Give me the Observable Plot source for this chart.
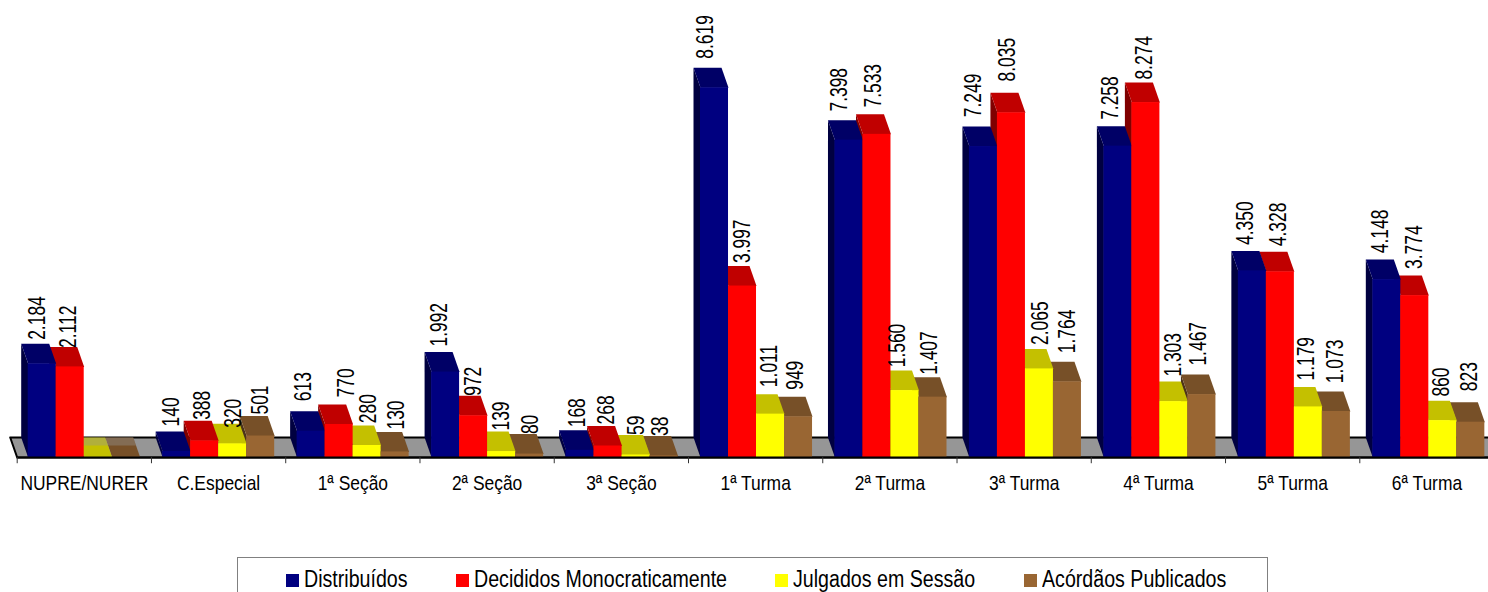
<!DOCTYPE html>
<html>
<head>
<meta charset="utf-8">
<script src="https://cdn.jsdelivr.net/npm/d3@7"></script>
<script src="https://cdn.jsdelivr.net/npm/@observablehq/plot@0.6"></script>
<style>
html,body{margin:0;padding:0;background:#fff;overflow:hidden;width:1488px;height:592px}
#chart{position:absolute;left:0;top:0}
svg{display:block}
#legend{position:absolute;left:237px;top:557px;width:1031px;height:60px;border:1px solid #808080;box-sizing:border-box;background:#fff}
#legend i{position:absolute;top:16px;width:13px;height:13px;display:block}
#legend span{position:absolute;top:8px;font:23px/26px "Liberation Sans",sans-serif;color:#000;white-space:nowrap;transform:scaleX(.853);transform-origin:0 50%}
</style>
</head>
<body>
<div id="chart"></div>
<div id="legend"></div>
<script>
const categories = ["NUPRE/NURER","C.Especial","1ª Seção","2ª Seção","3ª Seção","1ª Turma","2ª Turma","3ª Turma","4ª Turma","5ª Turma","6ª Turma"];
const distribuidos = [2184,140,613,1992,168,8619,7398,7249,7258,4350,4148];
const decididos = [2112,388,770,972,268,3997,7533,8035,8274,4328,3774];
const julgados = [0,320,280,139,59,1011,1560,2065,1303,1179,860];
const acordaos = [0,501,130,80,38,949,1407,1764,1467,1073,823];
const seriesNames = ["Distribuídos","Decididos Monocraticamente","Julgados em Sessão","Acórdãos Publicados"];
const seriesValues = [distribuidos,decididos,julgados,acordaos];
const frontColors = ["#000080","#ff0000","#ffff00","#996633"];
const topColors = ["#000066","#c00000","#c4c000","#775028"];
const sideColors = ["#000040","#800000","#808000","#4d3319"];

// how far each value label sits from its bar, in screen pixels: sideways from the bar's left edge, and above its top
const labelSide = [[9,12,0,0],[9,12,15,14],[6,21,15,15],[8,14,13.5,14.5],[11,12,14.5,10],[5,14,13,10.6],[4,10,6.5,10],[4,10,15,14],[6.5,12.7,13,10],[7,12.3,12.3,12.6],[7.7,13.3,12.7,12.5]];
const labelLift = [[4,-1,0,0],[5,1,-4,1.5],[10,7,2.3,2.4],[5.5,0,1,0],[3,1.5,0,0],[9,3,7,7],[8.6,6.8,3.3,2.3],[9.3,11.3,4,8.6],[6.3,3,5,9],[6,5.6,6.4,8.3],[6.3,6.7,4,11]];

// projection constants of the pseudo-3D chart, in scale units
const pxX = 134.26, pxY = 0.0429;
const groupStep = 1.0015, barStart = 0.0819, barW = 0.2086, depthX = 0.0521, depthY = 466;
const floorRight = 11.2;

const bars = categories.flatMap((c,i)=>seriesValues.map((vals,s)=>({
  c,i,s,v:vals[i],x:barStart+i*groupStep+s*barW
})));
const paintOrder = categories.flatMap((c,i)=>[3,2,1,0].map(s=>bars[i*4+s]));
const faces = paintOrder.flatMap(b=>{
  const {x,v,s,i}=b;
  const side=[[x,0],[x-depthX,depthY],[x-depthX,v+depthY],[x,v]];
  const top=[[x,v],[x+barW,v],[x+barW-depthX,v+depthY],[x-depthX,v+depthY]];
  return [
    ...side.map(p=>({z:`s${i}-${s}`,px:p[0],py:p[1],f:sideColors[s]})),
    ...top.map(p=>({z:`t${i}-${s}`,px:p[0],py:p[1],f:topColors[s]}))
  ];
});
const floor=[[0,0],[-depthX,depthY],[floorRight,depthY],[floorRight,0],[0,0],[-depthX,depthY]].map(p=>({px:p[0],py:p[1]}));
const veil = bars.filter(b=>b.v===0).flatMap(b=>{
  const k=0.6, x=b.x;
  return [[x-depthX*k,depthY*k],[x+barW-depthX*k,depthY*k],[x+barW-depthX,depthY],[x-depthX,depthY]]
    .map(p=>({z:`v${b.i}-${b.s}`,px:p[0],py:p[1]}));
});
const ticks = d3.range(categories.length+1);
const fmt = v=>v.toLocaleString("de-DE");
const labelFont = "'Liberation Sans',sans-serif";

const plot = Plot.plot({
  width:1488,height:548,margin:0,
  x:{domain:[-0.1244,10.9586],range:[0,1488],axis:null},
  y:{domain:[-2121,10653],range:[548,0],axis:null},
  color:{type:"identity"},
  marks:[
    Plot.line(floor,{x:"px",y:"py",fill:"#969696",stroke:"#000",strokeWidth:2,curve:"linear",strokeLinejoin:"miter"}),
    Plot.line(faces,{x:"px",y:"py",z:"z",fill:"f",stroke:"none",curve:"linear"}),
    Plot.line(veil,{x:"px",y:"py",z:"z",fill:"#969696",fillOpacity:0.4,stroke:"none",curve:"linear"}),
    Plot.rect(bars,{x1:"x",x2:d=>d.x+barW,y1:0,y2:"v",fill:d=>frontColors[d.s]}),
    Plot.ruleY([0],{x1:0,x2:floorRight,stroke:"#000",strokeWidth:2}),
    Plot.ruleX(ticks,{y1:0,y2:-145,stroke:"#333",strokeWidth:1}),
    Plot.text(categories,{x:(d,i)=>i+0.5,y:-606,text:d=>d,fontSize:21,fontFamily:labelFont,fill:"#000",textAnchor:"middle"}),
    Plot.text(bars.filter(b=>b.v>0),{
      x:d=>d.x+labelSide[d.i][d.s]/pxX,
      y:d=>d.v+depthY+labelLift[d.i][d.s]/pxY,
      text:d=>fmt(d.v),rotate:-90,textAnchor:"start",lineAnchor:"middle",
      fontSize:24,fontFamily:labelFont,fill:"#000"})
  ]
});
document.getElementById("chart").appendChild(plot);
// the reference's type is a condensed cut: squeeze the real text to that width
plot.querySelectorAll("text").forEach(t=>{
  const rotated=(t.getAttribute("transform")||"").includes("rotate");
  t.setAttribute("textLength",(t.getComputedTextLength()*(rotated?0.726:0.83)).toFixed(1));
  t.setAttribute("lengthAdjust","spacingAndGlyphs");
});

const legend=document.getElementById("legend");
const swatchLeft=[48,218,537,786], textLeft=[66,236,555,804];
seriesNames.forEach((n,s)=>{
  const i=document.createElement("i");i.style.left=swatchLeft[s]+"px";i.style.background=frontColors[s];legend.appendChild(i);
  const t=document.createElement("span");t.style.left=textLeft[s]+"px";t.textContent=n;legend.appendChild(t);
});
</script>
</body>
</html>
